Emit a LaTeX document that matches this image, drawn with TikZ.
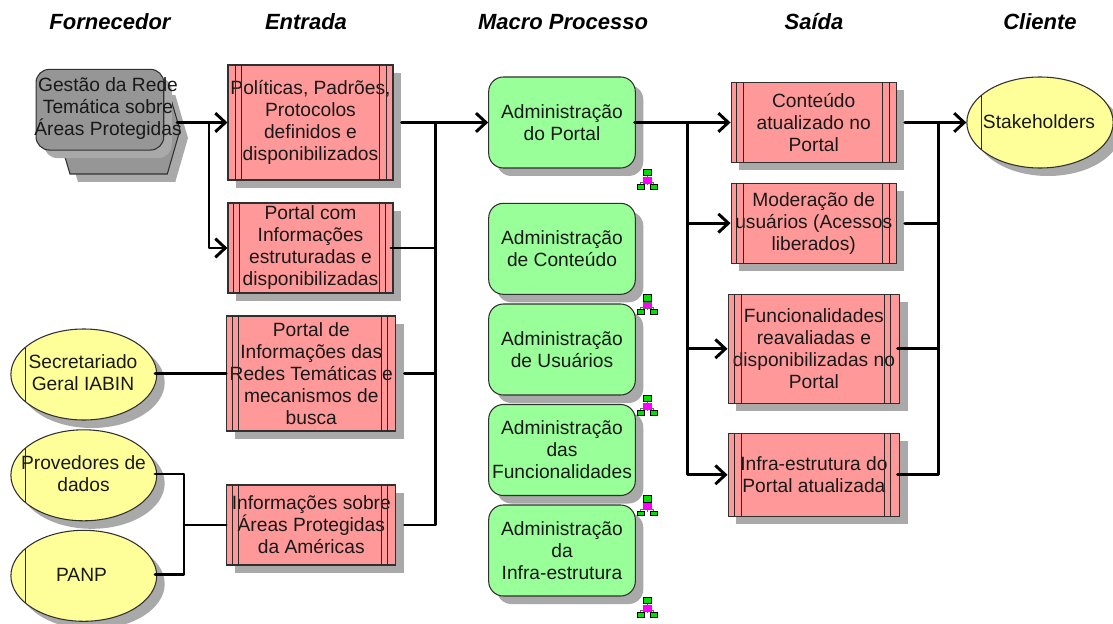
\documentclass[tikz,border=0pt]{standalone}
\usepackage{fontspec}
\setmainfont{Liberation Sans}
\usetikzlibrary{arrows.meta,shadows,shapes.geometric}
\definecolor{redfill}{HTML}{FF9999}
\definecolor{greenfill}{HTML}{99FF99}
\definecolor{yellowfill}{HTML}{FFFF99}
\definecolor{grayfill}{HTML}{969696}
\definecolor{shadowgray}{HTML}{A9A9A9}
\definecolor{edge}{HTML}{303030}
\definecolor{icongr}{HTML}{00E000}
\definecolor{iconmg}{HTML}{FF00FF}
\tikzset{
  x=0.75pt,y=-0.75pt,
  shadowed/.style={general shadow={fill=shadowgray,shadow xshift=6pt,shadow yshift=-6pt}},
  lbl/.style={inner sep=0pt,align=center,font=\fontsize{14.4}{16.5}\selectfont,text=black!90},
  wh/.style n args={2}{minimum width=#1*0.75pt,minimum height=#2*0.75pt},
  redbox/.style={lbl,draw=edge,line width=0.8pt,fill=redfill,shadowed},
  procbox/.style={lbl,draw=edge,line width=0.8pt,fill=greenfill,shadowed,rounded corners=11pt,wh={146.6}{91}},
  oval/.style={ellipse,inner sep=0pt,draw=edge,line width=0.8pt,fill=yellowfill,shadowed,wh={145.8}{91}},
  graybox/.style={lbl,draw=edge,line width=0.8pt,fill=grayfill,rounded corners=10pt,shadowed},
  title/.style={inner sep=0pt,font=\fontsize{16.5}{20}\selectfont\bfseries\itshape},
  inner/.style={draw=edge!85!black,line width=0.75pt},
  conn/.style={draw=black,line width=2.2pt,line cap=round,line join=round},
  arr/.style={conn,-{Straight Barb[length=7.5pt,width=14pt,line width=2.2pt]}},
  iconline/.style={draw=black!60,line width=0.5pt},
  icongreen/.style={draw=black,line width=0.7pt,fill=icongr},
  iconmag/.style={draw=black!60,line width=0.6pt,fill=iconmg},
}
\newcommand{\boxbars}[5]{%
  \draw[inner] ([xshift=#2*0.75pt]#1.north west) -- ([xshift=#2*0.75pt]#1.south west);
  \draw[inner] ([xshift=#3*0.75pt]#1.north west) -- ([xshift=#3*0.75pt]#1.south west);
  \draw[inner] ([xshift=-#4*0.75pt]#1.north east) -- ([xshift=-#4*0.75pt]#1.south east);
  \draw[inner] ([xshift=-#5*0.75pt]#1.north east) -- ([xshift=-#5*0.75pt]#1.south east);
}
\newcommand{\ovalbar}[1]{%
  \draw[inner] ([shift={(-58.8,-27)}]#1.center) -- ([shift={(-58.8,27)}]#1.center);
}
\newcommand{\treeicon}[2]{%
  \begin{scope}[shift={(#1,#2)}]
    \draw[iconline] (10.5,6) -- (10.5,16) (3.8,16) -- (3.8,13.5) -- (17,13.5) -- (17,16);
    \filldraw[icongreen] (6.7,0.3) rectangle (14.3,6.7);
    \filldraw[iconmag] (6.7,8) rectangle (14.3,14.3);
    \filldraw[icongreen] (0.3,15.5) rectangle (7.7,20);
    \filldraw[icongreen] (13.3,15.5) rectangle (20.7,20);
  \end{scope}
}
\begin{document}
\begin{tikzpicture}
\useasboundingbox (0,0) rectangle (1113,624);
\fill[white] (0,0) rectangle (1113,624);
% titles
\node[title] (t1) at (110,22) {Fornecedor};
\node[title] (t2) at (306,22) {Entrada};
\node[title] (t3) at (563,22) {Macro Processo};
\node[title] (t4) at (814,22) {Saída};
\node[title] (t5) at (1040,22) {Cliente};
% grey supplier
\draw[draw=edge,line width=0.8pt,fill=grayfill,shadowed] (57,130) -- (70,87) -- (167.3,87) -- (180,130) -- (167.3,174) -- (70,174) -- cycle;
\node[graybox,wh={127.7}{80.7}] (gbox) at (99.9,109.7) {};
\node[lbl] (gtext) at (108,108.5) {Gestão da Rede\\Temática sobre\\Áreas Protegidas};
\coordinate (gsrc) at (177,122.5);
% inputs
\node[redbox,wh={165}{115}] (e1) at (310.5,122.5) {Políticas, Padrões,\\Protocolos\\definidos e\\disponibilizados};
\boxbars{e1}{7.7}{14}{14.3}{7.3}
\node[redbox,wh={165}{90}] (e2) at (310.5,248) {Portal com\\Informações\\estruturadas e\\disponibilizadas};
\boxbars{e2}{5.7}{12}{14}{8}
\node[redbox,wh={169.3}{115}] (e3) at (311.3,373.5) {Portal de\\Informações das\\Redes Temáticas e\\mecanismos de\\busca};
\boxbars{e3}{6}{12.3}{15.3}{9}
\node[redbox,wh={169.3}{80}] (e4) at (311.3,525) {Informações sobre\\Áreas Protegidas\\da Américas};
\boxbars{e4}{6}{12.3}{15.3}{9}
% suppliers
\node[oval] (sec) at (83.8,374.5) {};
\ovalbar{sec}
\node[lbl] (sect) at (83,373) {Secretariado\\Geral IABIN};
\node[oval] (prov) at (83.8,475.3) {};
\ovalbar{prov}
\node[lbl] (provt) at (83.5,474) {Provedores de\\dados};
\node[oval] (panp) at (83.8,575.8) {};
\ovalbar{panp}
\node[lbl] (panpt) at (81.5,574.5) {PANP};
% processes
\node[procbox] (p1) at (562,122.5) {Administração\\do Portal};
\node[procbox] (p2) at (562,248.8) {Administração\\de Conteúdo};
\node[procbox] (p3) at (562,349.5) {Administração\\de Usuários};
\node[procbox] (p4) at (562,450) {Administração\\das\\Funcionalidades};
\node[procbox] (p5) at (562,550.5) {Administração\\da\\Infra-estrutura};
\treeicon{636.7}{169}
\treeicon{636.7}{294.3}
\treeicon{636.7}{395}
\treeicon{636.7}{495.5}
\treeicon{636.7}{597}
% outputs
\node[redbox,wh={165.3}{80}] (s1) at (813.7,122.5) {Conteúdo\\atualizado no\\Portal};
\boxbars{s1}{6.3}{12.7}{14.6}{7.6}
\node[redbox,wh={165.3}{80}] (s2) at (813.7,223.2) {Moderação de\\usuários (Acessos\\liberados)};
\boxbars{s2}{6.3}{12.7}{14.6}{7.6}
\node[redbox,wh={171.7}{109}] (s3) at (813.9,348.8) {Funcionalidades\\reavaliadas e\\disponibilizadas no\\Portal};
\boxbars{s3}{7}{14}{16}{9.7}
\node[redbox,wh={171.7}{83}] (s4) at (813.9,474.8) {Infra-estrutura do\\Portal atualizada};
\boxbars{s4}{7}{14}{16}{9.7}
% client
\node[oval,wh={146.3}{91}] (cli) at (1040,122.5) {};
\draw[inner] ([shift={(-59,-27)}]cli.center) -- ([shift={(-59,27)}]cli.center);
\node[lbl] (clit) at (1039,122) {Stakeholders};
% connector junctions
\coordinate (jg) at (209,122.5);
\coordinate (jp) at (184,525);
\coordinate (busin) at (435.5,122.5);
\coordinate (busout) at (687.3,122.5);
\coordinate (buscl) at (938.7,122.5);
\coordinate (secout) at (155,373.5);
\coordinate (provout) at (155,474);
\coordinate (panpout) at (155,574.5);
% connectors: supplier to inputs
\draw[arr] (gsrc) -- (e1.west);
\draw[arr] (jg) |- (e2.west);
\draw[conn] (secout) -- (e3.west);
\draw[conn] (provout) -| (jp) |- (panpout);
\draw[conn] (jp) -- (e4.west);
% inputs to process
\draw[arr] ([xshift=6pt]e1.east) -- (p1.west);
\draw[conn] (busin) |- ([xshift=-2pt]e2.east);
\draw[conn] (busin) |- ([xshift=6pt]e3.east);
\draw[conn] (busin) |- ([xshift=6pt]e4.east);
% process to outputs
\draw[arr] ([xshift=-1pt]p1.east) -- (s1.west);
\draw[arr] (busout) |- (s2.west);
\draw[arr] (busout) |- (s3.west);
\draw[arr] (busout) |- (s4.west);
% outputs to client
\draw[arr] ([xshift=6pt]s1.east) -- (cli.west);
\draw[conn] (buscl) |- ([xshift=6pt]s2.east);
\draw[conn] (buscl) |- ([xshift=-2pt]s3.east);
\draw[conn] (buscl) |- ([xshift=-2pt]s4.east);
\end{tikzpicture}
\end{document}
